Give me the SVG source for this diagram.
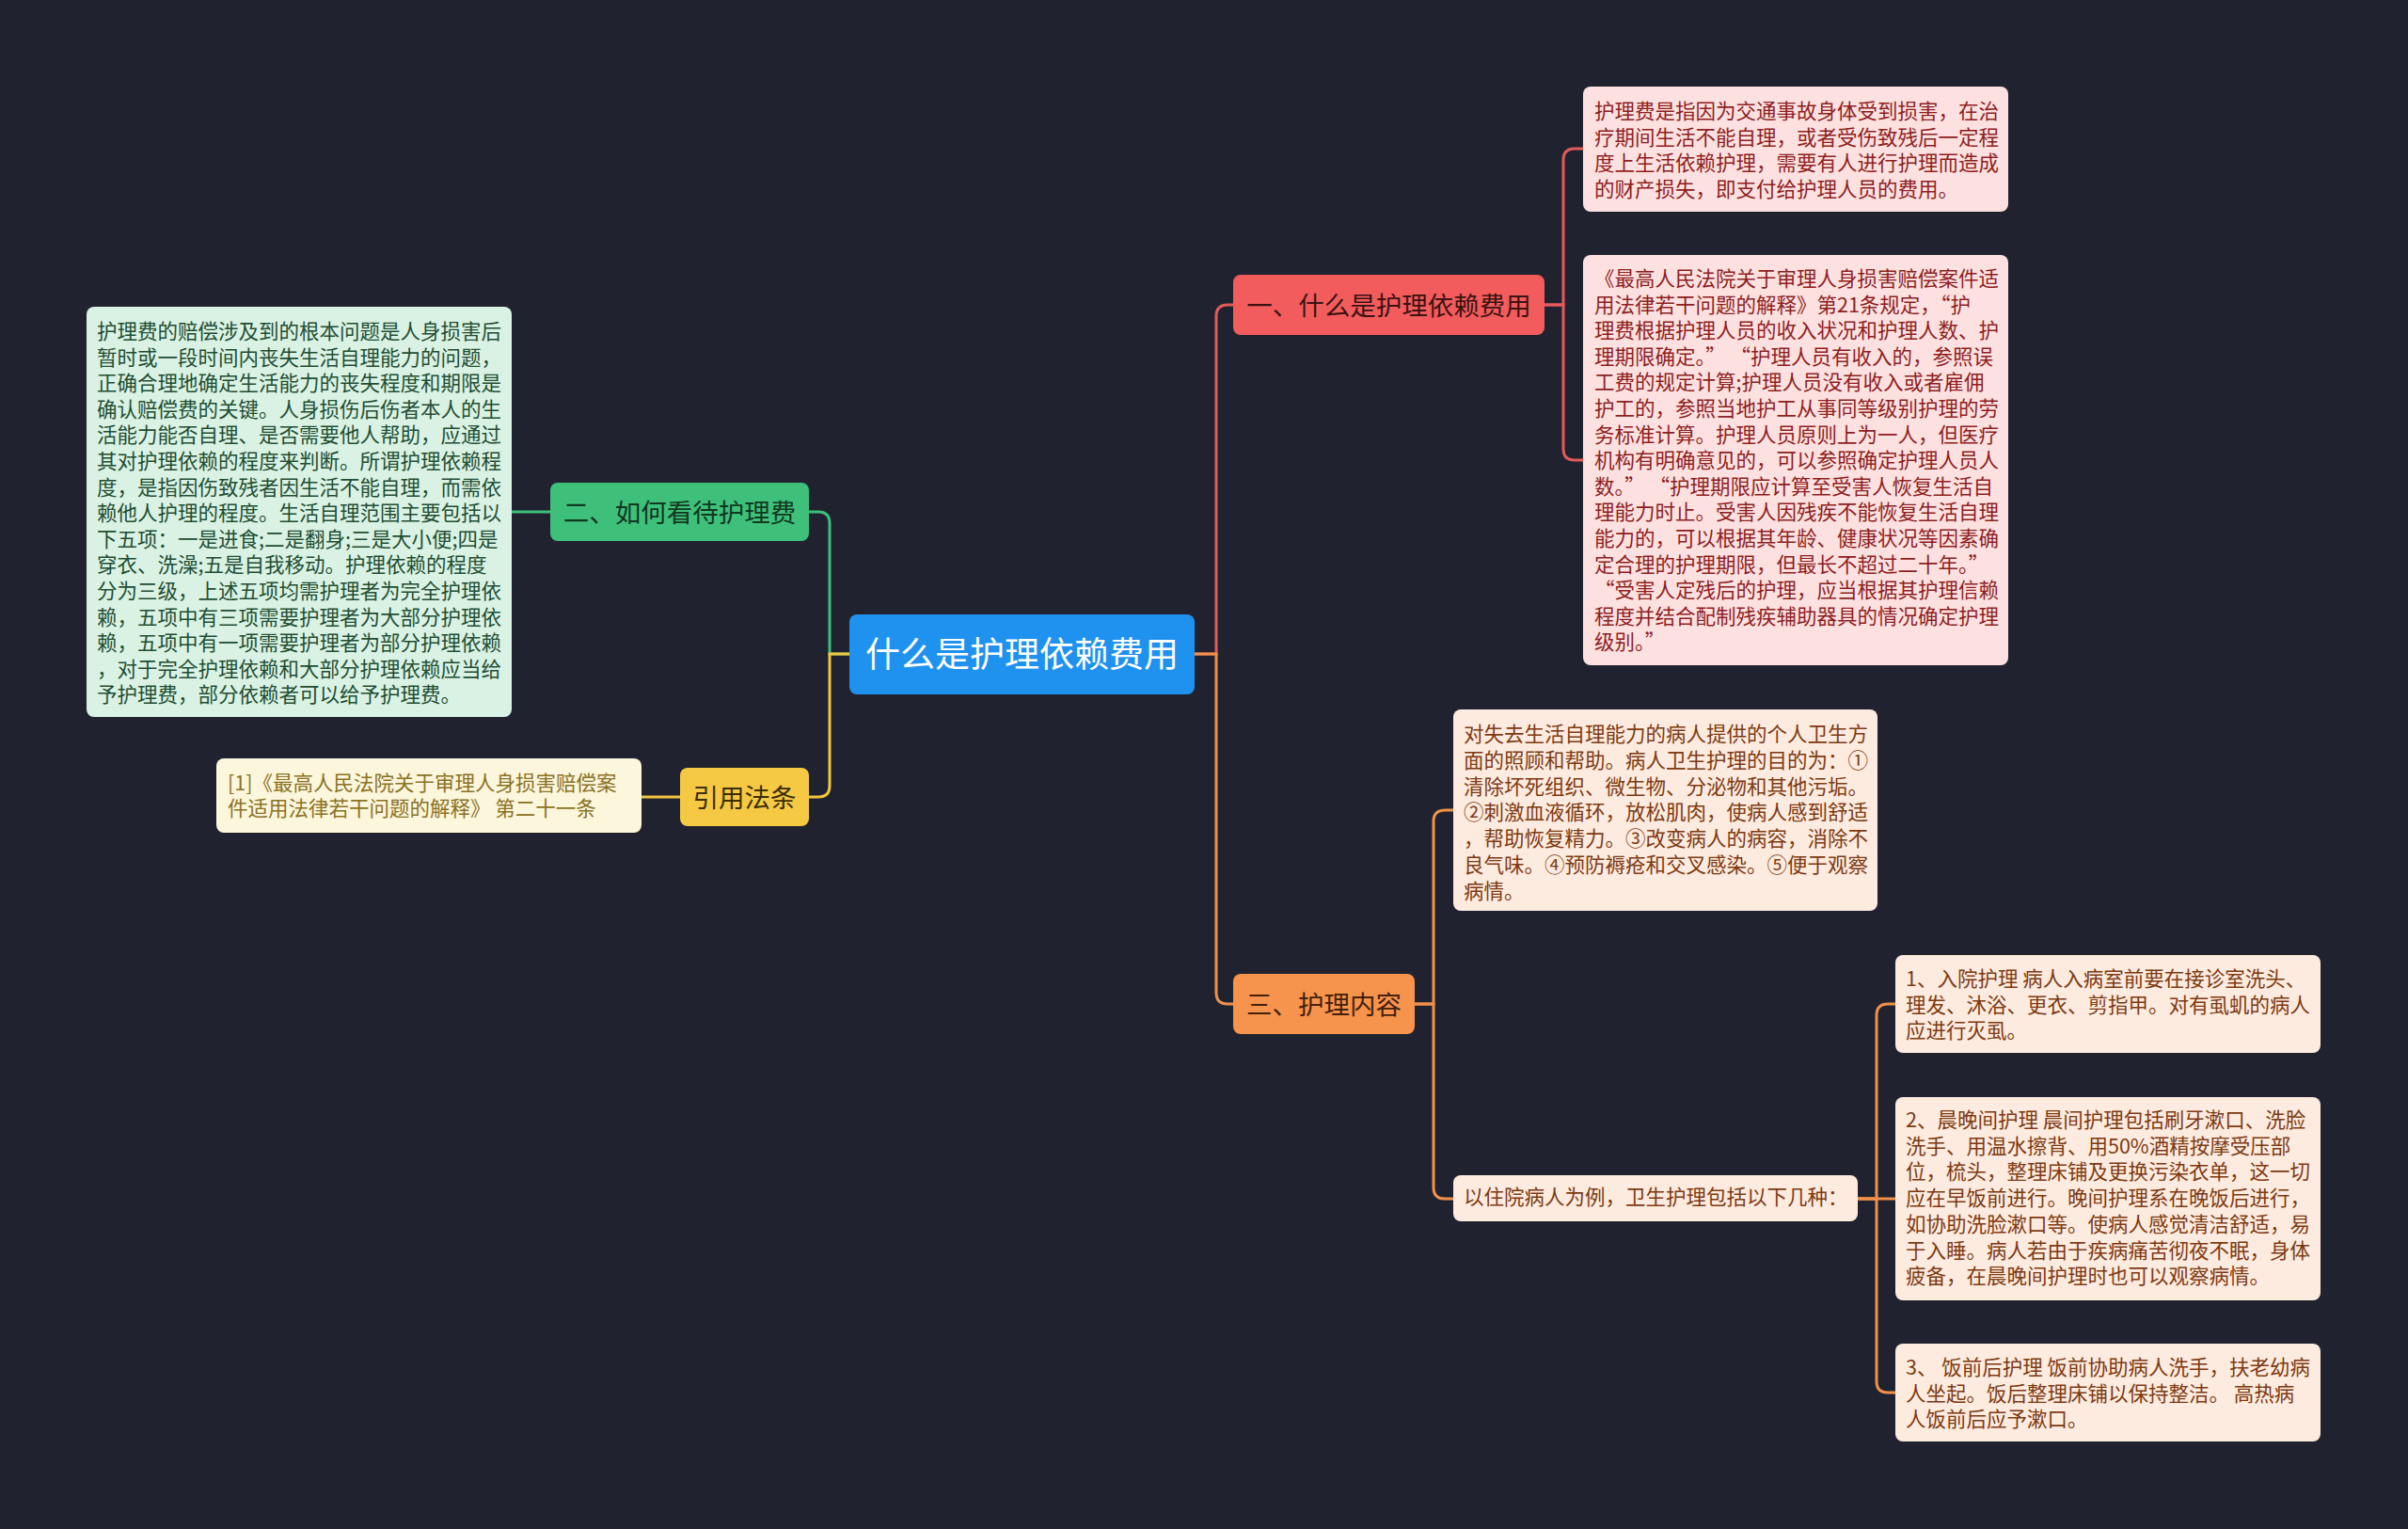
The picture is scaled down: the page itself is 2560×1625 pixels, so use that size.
<svg xmlns="http://www.w3.org/2000/svg" width="2560" height="1625" viewBox="0 0 2560 1625">
<style>
text{font-family:"Noto Sans CJK SC","Noto Sans",sans-serif;}
.d{font-size:21.5px;transform:translateY(-2px);}
.n{font-size:27.5px;text-anchor:middle;}
.c{fill:none;stroke-width:3;stroke-linecap:round;}
.red{stroke:#e35a5a;}
.org{stroke:#f0904a;}
.grn{stroke:#3cbf79;}
.yel{stroke:#f2c640;}
.pk rect{fill:#fde1e1;}
.pk text{fill:#8e1e1e;}
.gb rect{fill:#d9f2e4;}
.gb text{fill:#1f4e32;}
.cr rect{fill:#fcf6dc;}
.cr text{fill:#8a7224;}
.pc rect{fill:#fdebdf;}
.pc text{fill:#7d3a12;}
</style>
<rect width="2560" height="1625" fill="#20232f"/>
<g id="connectors">
<path class="c red" d="M1270,695 H1293 V336 Q1293,324 1305,324 H1311"/>
<path class="c org" d="M1270,695 H1293 V1055 Q1293,1067 1305,1067 H1311"/>
<path class="c grn" d="M903,695 H882 V556 Q882,544 870,544 H860"/>
<path class="c yel" d="M903,695 H882 V835 Q882,847 870,847 H860"/>
<path class="c grn" d="M585,544 H544"/>
<path class="c yel" d="M723,847 H682"/>
<path class="c red" d="M1642,324 H1662 V170 Q1662,158 1674,158 H1683"/>
<path class="c red" d="M1642,324 H1662 V477 Q1662,489 1674,489 H1683"/>
<path class="c org" d="M1504,1067 H1524 V873 Q1524,861 1536,861 H1545"/>
<path class="c org" d="M1504,1067 H1524 V1262 Q1524,1274 1536,1274 H1545"/>
<path class="c org" d="M1975,1274 H1995 V1079 Q1995,1067 2007,1067 H2015"/>
<path class="c org" d="M1975,1274 H2015"/>
<path class="c org" d="M1975,1274 H1995 V1468 Q1995,1480 2007,1480 H2015"/>
</g>
<g id="center">
<rect x="903" y="653" width="367" height="85" rx="8" fill="#1f91ef"/>
<text x="1086.5" y="709" font-size="37" fill="#ffffff" text-anchor="middle">什么是护理依赖费用</text>
</g>
<g id="n1">
<rect x="1311" y="292" width="331" height="64" rx="8" fill="#f25c5c"/>
<text class="n" x="1476.5" y="334.5" fill="#3d1212">一、什么是护理依赖费用</text>
</g>
<g id="n2">
<rect x="585" y="513" width="275" height="62" rx="8" fill="#3ec07b"/>
<text class="n" x="722.5" y="554.5" fill="#10381f">二、如何看待护理费</text>
</g>
<g id="n4">
<rect x="723" y="816" width="137" height="62" rx="8" fill="#f6c945"/>
<text class="n" x="791.5" y="857.5" fill="#3a2d00">引用法条</text>
</g>
<g id="n3">
<rect x="1311" y="1035" width="193" height="64" rx="8" fill="#f6934c"/>
<text class="n" x="1407.5" y="1077.5" fill="#44200a">三、护理内容</text>
</g>
<g id="n1a" class="pk">
<rect x="1683" y="92" width="452" height="133" rx="8"/>
<text class="d" x="1695">
<tspan x="1695" y="128">护理费是指因为交通事故身体受到损害，在治</tspan>
<tspan x="1695" y="155.6">疗期间生活不能自理，或者受伤致残后一定程</tspan>
<tspan x="1695" y="183.2">度上生活依赖护理，需要有人进行护理而造成</tspan>
<tspan x="1695" y="210.8">的财产损失，即支付给护理人员的费用。</tspan>
</text>
</g>
<g id="n1b" class="pk">
<rect x="1683" y="271" width="452" height="436" rx="8"/>
<text class="d" x="1695">
<tspan x="1695" y="306">《最高人民法院关于审理人身损害赔偿案件适</tspan>
<tspan x="1695" y="333.6">用法律若干问题的解释》第21条规定，“护</tspan>
<tspan x="1695" y="361.2">理费根据护理人员的收入状况和护理人数、护</tspan>
<tspan x="1695" y="388.8">理期限确定。” “护理人员有收入的，参照误</tspan>
<tspan x="1695" y="416.4">工费的规定计算;护理人员没有收入或者雇佣</tspan>
<tspan x="1695" y="444">护工的，参照当地护工从事同等级别护理的劳</tspan>
<tspan x="1695" y="471.6">务标准计算。护理人员原则上为一人，但医疗</tspan>
<tspan x="1695" y="499.2">机构有明确意见的，可以参照确定护理人员人</tspan>
<tspan x="1695" y="526.8">数。” “护理期限应计算至受害人恢复生活自</tspan>
<tspan x="1695" y="554.4">理能力时止。受害人因残疾不能恢复生活自理</tspan>
<tspan x="1695" y="582">能力的，可以根据其年龄、健康状况等因素确</tspan>
<tspan x="1695" y="609.6">定合理的护理期限，但最长不超过二十年。”</tspan>
<tspan x="1695" y="637.2"> “受害人定残后的护理，应当根据其护理信赖</tspan>
<tspan x="1695" y="664.8">程度并结合配制残疾辅助器具的情况确定护理</tspan>
<tspan x="1695" y="692.4">级别。”</tspan>
</text>
</g>
<g id="n2a" class="gb">
<rect x="92" y="326" width="452" height="436" rx="8"/>
<text class="d" x="103">
<tspan x="103" y="362">护理费的赔偿涉及到的根本问题是人身损害后</tspan>
<tspan x="103" y="389.6">暂时或一段时间内丧失生活自理能力的问题，</tspan>
<tspan x="103" y="417.2">正确合理地确定生活能力的丧失程度和期限是</tspan>
<tspan x="103" y="444.8">确认赔偿费的关键。人身损伤后伤者本人的生</tspan>
<tspan x="103" y="472.4">活能力能否自理、是否需要他人帮助，应通过</tspan>
<tspan x="103" y="500">其对护理依赖的程度来判断。所谓护理依赖程</tspan>
<tspan x="103" y="527.6">度，是指因伤致残者因生活不能自理，而需依</tspan>
<tspan x="103" y="555.2">赖他人护理的程度。生活自理范围主要包括以</tspan>
<tspan x="103" y="582.8">下五项：一是进食;二是翻身;三是大小便;四是</tspan>
<tspan x="103" y="610.4">穿衣、洗澡;五是自我移动。护理依赖的程度</tspan>
<tspan x="103" y="638">分为三级，上述五项均需护理者为完全护理依</tspan>
<tspan x="103" y="665.6">赖，五项中有三项需要护理者为大部分护理依</tspan>
<tspan x="103" y="693.2">赖，五项中有一项需要护理者为部分护理依赖</tspan>
<tspan x="103" y="720.8">，对于完全护理依赖和大部分护理依赖应当给</tspan>
<tspan x="103" y="748.4">予护理费，部分依赖者可以给予护理费。</tspan>
</text>
</g>
<g id="n4a" class="cr">
<rect x="230" y="806" width="452" height="79" rx="8"/>
<text class="d" x="242">
<tspan x="242" y="842">[1]《最高人民法院关于审理人身损害赔偿案</tspan>
<tspan x="242" y="869">件适用法律若干问题的解释》 第二十一条</tspan>
</text>
</g>
<g id="n3a" class="pc">
<rect x="1545" y="754" width="451" height="214" rx="8"/>
<text class="d" x="1556">
<tspan x="1556" y="790">对失去生活自理能力的病人提供的个人卫生方</tspan>
<tspan x="1556" y="817.8">面的照顾和帮助。病人卫生护理的目的为：①</tspan>
<tspan x="1556" y="845.6">清除坏死组织、微生物、分泌物和其他污垢。</tspan>
<tspan x="1556" y="873.4">②刺激血液循环，放松肌肉，使病人感到舒适</tspan>
<tspan x="1556" y="901.2">，帮助恢复精力。③改变病人的病容，消除不</tspan>
<tspan x="1556" y="929">良气味。④预防褥疮和交叉感染。⑤便于观察</tspan>
<tspan x="1556" y="956.8">病情。</tspan>
</text>
</g>
<g id="n3b" class="pc">
<rect x="1545" y="1249" width="430" height="49" rx="8"/>
<text class="d" x="1556" y="1282">以住院病人为例，卫生护理包括以下几种：</text>
</g>
<g id="n3b1" class="pc">
<rect x="2015" y="1015" width="452" height="104" rx="8"/>
<text class="d" x="2026">
<tspan x="2026" y="1050">1、入院护理 病人入病室前要在接诊室洗头、</tspan>
<tspan x="2026" y="1077.6">理发、沐浴、更衣、剪指甲。对有虱虮的病人</tspan>
<tspan x="2026" y="1105.2">应进行灭虱。</tspan>
</text>
</g>
<g id="n3b2" class="pc">
<rect x="2015" y="1166" width="452" height="216" rx="8"/>
<text class="d" x="2026">
<tspan x="2026" y="1200">2、晨晚间护理 晨间护理包括刷牙漱口、洗脸</tspan>
<tspan x="2026" y="1227.7">洗手、用温水擦背、用50%酒精按摩受压部</tspan>
<tspan x="2026" y="1255.4">位，梳头，整理床铺及更换污染衣单，这一切</tspan>
<tspan x="2026" y="1283.1">应在早饭前进行。晚间护理系在晚饭后进行，</tspan>
<tspan x="2026" y="1310.8">如协助洗脸漱口等。使病人感觉清洁舒适，易</tspan>
<tspan x="2026" y="1338.5">于入睡。病人若由于疾病痛苦彻夜不眠，身体</tspan>
<tspan x="2026" y="1366.2">疲备，在晨晚间护理时也可以观察病情。</tspan>
</text>
</g>
<g id="n3b3" class="pc">
<rect x="2015" y="1428" width="452" height="104" rx="8"/>
<text class="d" x="2026">
<tspan x="2026" y="1463">3、 饭前后护理 饭前协助病人洗手，扶老幼病</tspan>
<tspan x="2026" y="1490.7">人坐起。饭后整理床铺以保持整洁。 高热病</tspan>
<tspan x="2026" y="1518.4">人饭前后应予漱口。</tspan>
</text>
</g>
</svg>
